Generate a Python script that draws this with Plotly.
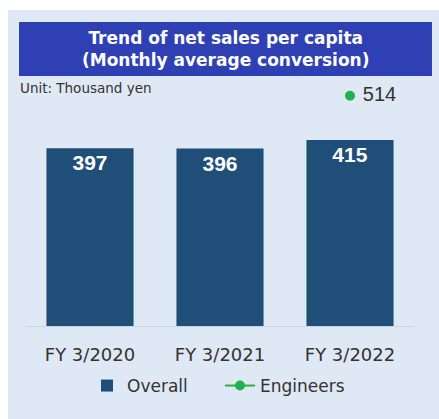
import plotly.graph_objects as go

# Chart data
fiscal_years = ["FY 3/2020", "FY 3/2021", "FY 3/2022"]
overall = [397, 396, 415]
engineers = [None, None, 514]

W, H = 439, 419
# Plot area in pixels
PL, PR, PT, PB = 25, 415, 80, 326


def px_x(x):
    return (x - PL) / (PR - PL)


def px_y(y):
    return (PB - y) / (PB - PT)


fig = go.Figure()

fig.add_trace(go.Bar(
    x=fiscal_years, y=overall, name="Overall",
    marker=dict(color="#1f4e79", line=dict(width=0)),
    text=[str(v) for v in overall], textposition="inside",
    insidetextanchor="end", constraintext="none",
    textfont=dict(family="Liberation Sans", size=21, color="white", weight="bold"),
    cliponaxis=False,
))

fig.add_trace(go.Scatter(
    x=fiscal_years, y=engineers, name="Engineers",
    mode="lines+markers+text",
    line=dict(color="#22b14c", width=2),
    marker=dict(color="#22b14c", size=10),
    texttemplate=" %{y}",
    textposition="middle right",
    textfont=dict(family="Liberation Sans", size=20, color="#333333"),
    cliponaxis=False,
))

shapes = [
    # light panel
    dict(type="rect", xref="paper", yref="paper", layer="below",
         x0=px_x(8), x1=px_x(440), y0=px_y(420), y1=px_y(10),
         fillcolor="#dfe8f5", line=dict(width=0)),
    # title box
    dict(type="rect", xref="paper", yref="paper", layer="below",
         x0=px_x(19), x1=px_x(432), y0=px_y(76), y1=px_y(22),
         fillcolor="#2e40b4", line=dict(width=0)),
]

annotations = [
    dict(xref="paper", yref="paper", x=px_x(226), y=px_y(49),
         text="Trend of net sales per capita<br>(Monthly average conversion)",
         showarrow=False, xanchor="center", yanchor="middle",
         font=dict(family="DejaVu Sans", size=17, color="white", weight="bold")),
    dict(xref="paper", yref="paper", x=px_x(18), y=px_y(88),
         text="Unit: Thousand yen", showarrow=False,
         xanchor="left", yanchor="middle",
         font=dict(family="DejaVu Sans", size=13.5, color="#333333")),
]

fig.update_layout(
    width=W, height=H,
    margin=dict(l=PL, r=W - PR, t=PT, b=H - PB),
    paper_bgcolor="white", plot_bgcolor="rgba(0,0,0,0)",
    bargap=0.33,
    showlegend=True,
    legend=dict(orientation="h", x=px_x(87), xanchor="left",
                y=px_y(386), yanchor="middle",
                font=dict(family="DejaVu Sans", size=17, color="#333333"),
                bgcolor="rgba(0,0,0,0)", itemwidth=30,
                entrywidth=88, traceorder="normal"),
    shapes=shapes, annotations=annotations,
    xaxis=dict(showgrid=False, showline=True, linecolor="#c9d3df", linewidth=1,
               ticks="", ticklabelstandoff=12, fixedrange=True,
               tickfont=dict(family="DejaVu Sans", size=18, color="#333333")),
    yaxis=dict(range=[0, (PB - PT) / 0.448], visible=False, showgrid=False,
               zeroline=False, fixedrange=True),
)

fig.write_html("out.html")
